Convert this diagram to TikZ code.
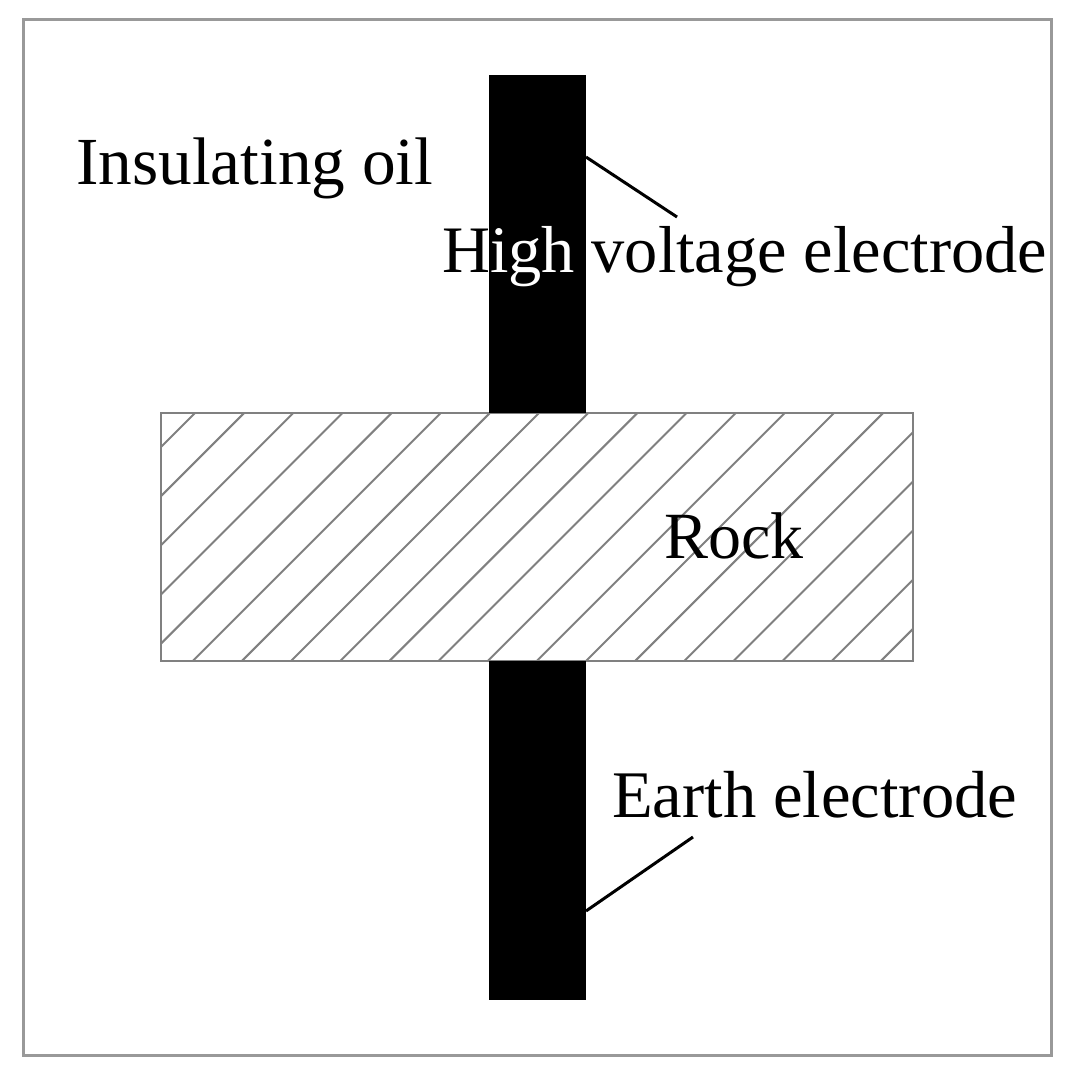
\documentclass[tikz,border=0pt]{standalone}
\usepackage{fontspec}
\setmainfont{Liberation Serif}
\begin{document}
\begin{tikzpicture}[x=1pt,y=-1pt,
  frame/.style={draw=black!40,line width=3pt},
  rockbox/.style={draw=black!50,line width=2.6pt},
  hatchline/.style={draw=black!50,line width=2pt},
  electrode/.style={fill=black,draw=none},
  leader/.style={draw=black,line width=3pt},
  lbl/.style={anchor=base west,inner sep=0pt,font=\fontsize{#1}{80}\selectfont},
  lbl/.default=67.3]
\useasboundingbox (0,0) rectangle (1071,1083);
% outer frame
\draw[frame] (23,20) rectangle (1051,1055);
% rock hatching
\begin{scope}
  \clip (161,413) rectangle (913,661);
  \foreach \n in {0,...,19}{
    \pgfmathsetmacro{\c}{608+49.15*\n}
    \draw[hatchline] (\c-413,413) -- (\c-661,661);
  }
\end{scope}
\draw[rockbox] (161,413) rectangle (913,661);
% electrodes
\fill[electrode] (489,75) rectangle (586,413);
\fill[electrode] (489,661) rectangle (586,1000);
% labels
\node[lbl] (oil) at (76,185) {Insulating oil};
\node[lbl=66.4] (hv) at (442,272) {High voltage electrode};
\begin{scope}
  \clip (489,75) rectangle (586,413);
  \node[lbl=66.4,text=white] (hvW) at (442,272) {High voltage electrode};
\end{scope}
\node[lbl=66] (rock) at (664,558) {Rock};
\node[lbl=66.6] (earth) at (612,817) {Earth electrode};
% leader lines
\coordinate (hvA) at (586,157);
\coordinate (hvB) at (677,217);
\coordinate (eA) at (586,911);
\coordinate (eB) at (693,837);
\draw[leader] (hvA) -- (hvB);
\draw[leader] (eA) -- (eB);
\end{tikzpicture}
\end{document}
